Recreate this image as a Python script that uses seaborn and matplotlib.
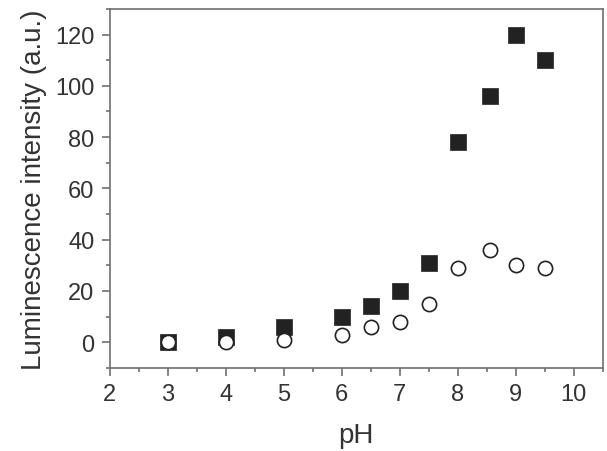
import matplotlib
matplotlib.use("Agg")
import matplotlib.pyplot as plt
import seaborn as sns
import pandas as pd
from matplotlib.ticker import MultipleLocator

ph = [3, 4, 5, 6, 6.5, 7, 7.5, 8, 8.55, 9, 9.5]
filled_vals = [0, 2, 6, 10, 14, 20, 31, 78, 96, 120, 110]
open_vals = [0, 0, 1, 3, 6, 8, 15, 29, 36, 30, 29]

df_filled = pd.DataFrame({"pH": ph, "intensity": filled_vals})
df_open = pd.DataFrame({"pH": ph, "intensity": open_vals})

sns.set_style("ticks")
plt.rcParams["font.family"] = ["Liberation Sans", "DejaVu Sans"]

fig = plt.figure(figsize=(6.07, 4.52), dpi=100)
ax = fig.add_axes([0.181, 0.184, 0.812, 0.794])

sns.scatterplot(data=df_filled, x="pH", y="intensity", marker="s", s=120,
                color="#222222", edgecolor="#222222", linewidth=0.5, ax=ax, zorder=3)
sns.scatterplot(data=df_open, x="pH", y="intensity", marker="o", s=105,
                facecolor="white", edgecolor="#222222", linewidth=1.2, ax=ax, zorder=4)

ax.set_xlim(2, 10.5)
ax.set_ylim(-10, 130)
ax.set_xticks([2, 3, 4, 5, 6, 7, 8, 9, 10])
ax.set_yticks([0, 20, 40, 60, 80, 100, 120])
ax.xaxis.set_minor_locator(MultipleLocator(0.5))
ax.yaxis.set_minor_locator(MultipleLocator(10))

gray = "#707070"
for sp in ax.spines.values():
    sp.set_color(gray)
    sp.set_linewidth(1.2)
ax.tick_params(which="both", direction="out", color=gray, width=1.2,
               labelsize=17, labelcolor="#333333", top=False, right=False)
ax.tick_params(which="major", length=6, pad=5)
ax.tick_params(which="minor", length=3)

ax.set_xlabel("pH", fontsize=20, color="#333333", labelpad=12)
ax.set_ylabel("Luminescence intensity (a.u.)", fontsize=20, color="#333333", labelpad=6)

fig.savefig("out.png", dpi=100)
